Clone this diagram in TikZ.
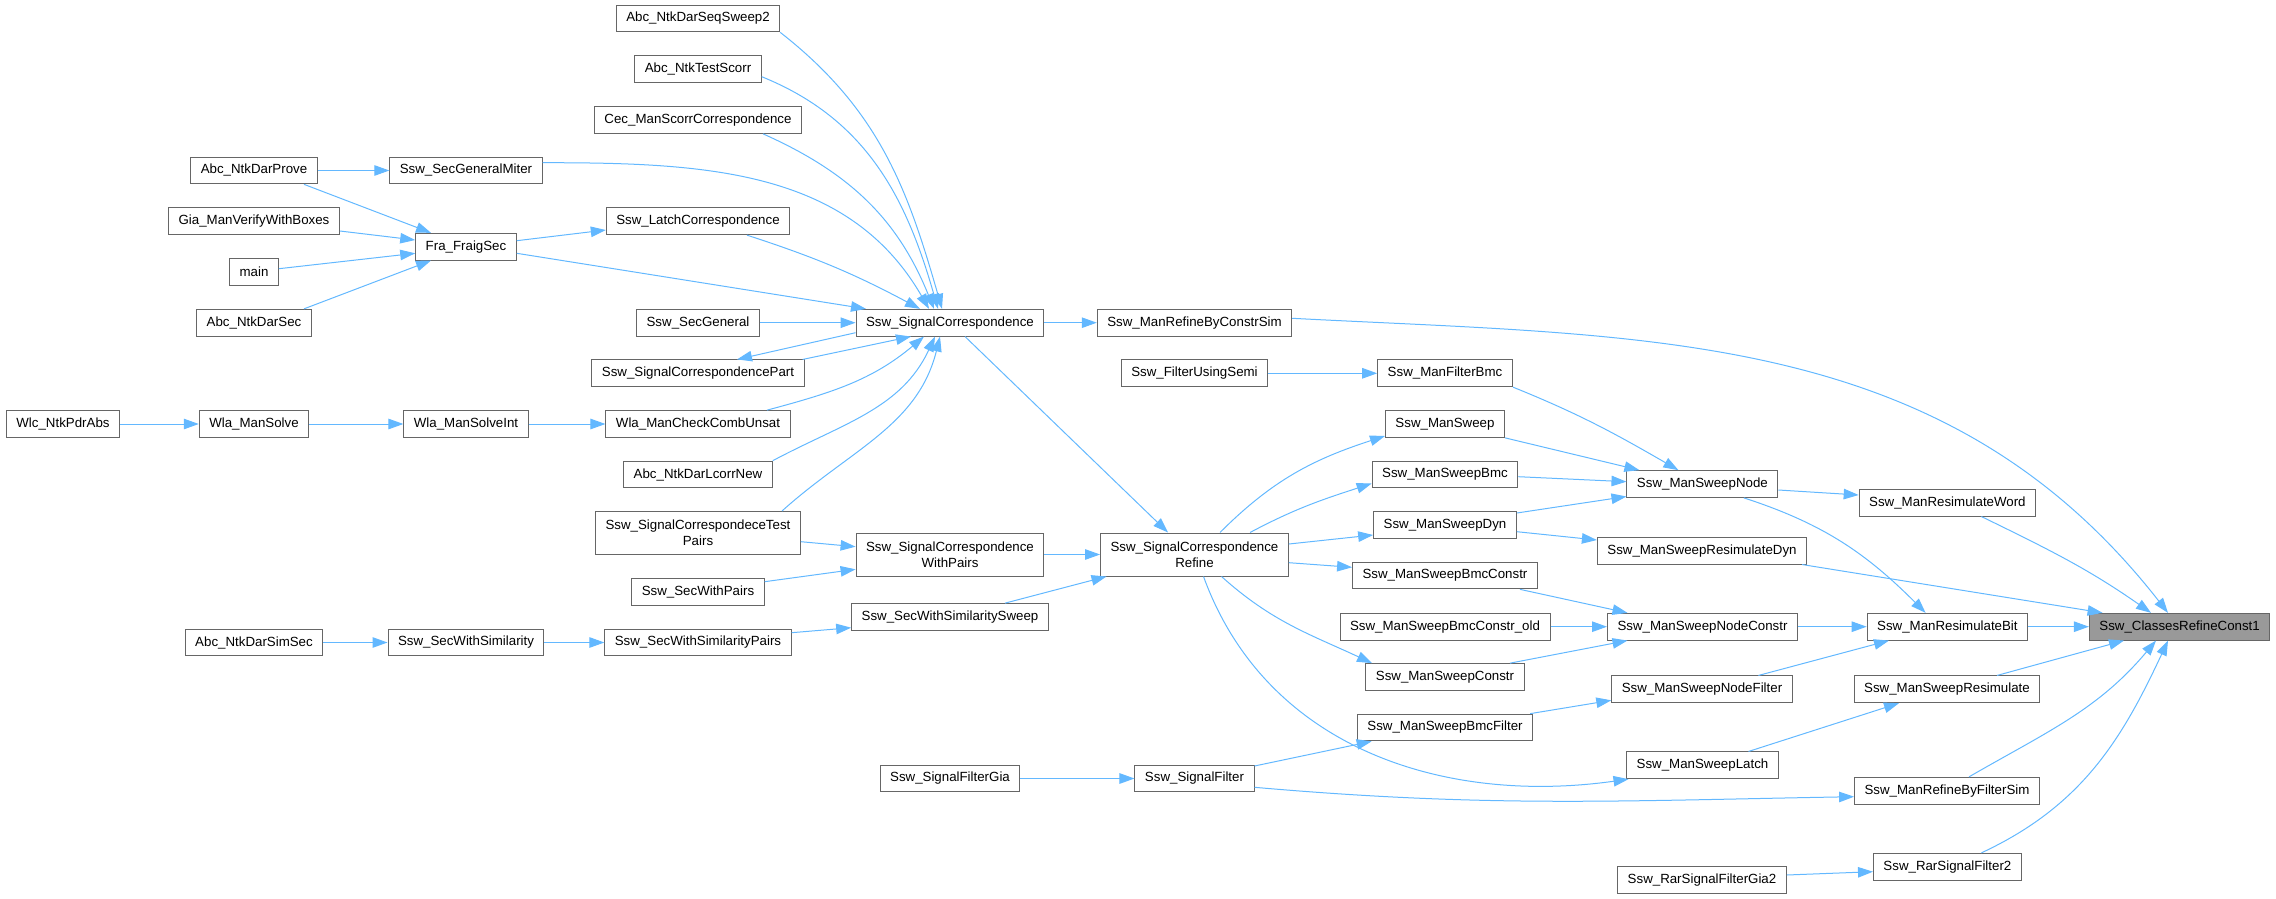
\documentclass[tikz,border=0pt]{standalone}
\usepackage{fontspec}
\setmainfont{Liberation Sans}
\usepackage{xcolor}
\usetikzlibrary{arrows.meta}
\definecolor{callblue}{HTML}{63B8FF}
\definecolor{nodeborder}{HTML}{666666}
\definecolor{rootfill}{HTML}{999999}
\tikzset{
  fn/.style = {
    draw           = nodeborder,
    fill           = white,
    line width     = 1pt,
    inner xsep     = 10pt,
    inner ysep     = 0pt,
    minimum height = 26.7pt,
    align          = center,
    font           = \fontsize{13.3}{16}\selectfont
  },
  fnroot/.style = {fn, fill = rootfill},
  fntwo/.style  = {fn, minimum height = 43pt},
  call/.style   = {draw = callblue, line width = 1pt, -{Triangle[length=15pt,width=10.5pt]}}
}

\begin{document}
\begin{tikzpicture}[x=1pt,y=1pt]
\useasboundingbox (0,0) rectangle (2276,-899);

% Column 1
\node[fn] (wlc) at (63,-424) {Wlc\_NtkPdrAbs};

% Column 2
\node[fn] (darprove)  at (254,-170.5) {Abc\_NtkDarProve};
\node[fn] (giaverify) at (254,-221.3) {Gia\_ManVerifyWithBoxes};
\node[fn] (mainfn)    at (254,-272)   {main};
\node[fn] (darsec)    at (254,-322.7) {Abc\_NtkDarSec};
\node[fn] (wlasolve)  at (254,-424)   {Wla\_ManSolve};
\node[fn] (darsimsec) at (254,-642.5) {Abc\_NtkDarSimSec};

% Column 3
\node[fn] (secmiter)    at (466,-170.5) {Ssw\_SecGeneralMiter};
\node[fn] (fraig)       at (466,-246.7) {Fra\_FraigSec};
\node[fn] (wlasolveint) at (466,-424)   {Wla\_ManSolveInt};
\node[fn] (secsim)      at (466,-642.5) {Ssw\_SecWithSimilarity};

% Column 4
\node[fn] (seqsweep)     at (698,-18.5)  {Abc\_NtkDarSeqSweep2};
\node[fn] (testscorr)    at (698,-69.3)  {Abc\_NtkTestScorr};
\node[fn] (cecscorr)     at (698,-120)   {Cec\_ManScorrCorrespondence};
\node[fn] (latchcorr)    at (698,-221.3) {Ssw\_LatchCorrespondence};
\node[fn] (secgeneral)   at (698,-322.7) {Ssw\_SecGeneral};
\node[fn] (scpart)       at (698,-373.3) {Ssw\_SignalCorrespondencePart};
\node[fn] (wlacheck)     at (698,-424)   {Wla\_ManCheckCombUnsat};
\node[fn] (lcorrnew)     at (698,-474.5) {Abc\_NtkDarLcorrNew};
\node[fntwo] (testpairs) at (698,-533)   {Ssw\_SignalCorrespondeceTest\\Pairs};
\node[fn] (secwithpairs) at (698,-591.7) {Ssw\_SecWithPairs};
\node[fn] (secsimpairs)  at (698,-642.5) {Ssw\_SecWithSimilarityPairs};

% Column 5
\node[fn] (sc)             at (950,-322.7) {Ssw\_SignalCorrespondence};
\node[fntwo] (scwithpairs) at (950,-554.5) {Ssw\_SignalCorrespondence\\WithPairs};
\node[fn] (simsweep)       at (950,-617)   {Ssw\_SecWithSimilaritySweep};
\node[fn] (filtergia)      at (950,-778.5) {Ssw\_SignalFilterGia};

% Column 6
\node[fn] (constrsim)     at (1194.5,-322.7) {Ssw\_ManRefineByConstrSim};
\node[fn] (filtersemi)    at (1194.5,-373.3) {Ssw\_FilterUsingSemi};
\node[fntwo] (screfine)   at (1194.5,-554.5) {Ssw\_SignalCorrespondence\\Refine};
\node[fn] (sigfilter)     at (1194.5,-778.5) {Ssw\_SignalFilter};

% Column 7
\node[fn] (filterbmc)    at (1445,-373.3) {Ssw\_ManFilterBmc};
\node[fn] (mansweep)     at (1445,-424)   {Ssw\_ManSweep};
\node[fn] (sweepbmc)     at (1445,-474.5) {Ssw\_ManSweepBmc};
\node[fn] (sweepdyn)     at (1445,-525)   {Ssw\_ManSweepDyn};
\node[fn] (bmcconstr)    at (1445,-575.5) {Ssw\_ManSweepBmcConstr};
\node[fn] (bmcconstrold) at (1445,-626.7) {Ssw\_ManSweepBmcConstr\_old};
\node[fn] (sweepconstr)  at (1445,-677)   {Ssw\_ManSweepConstr};
\node[fn] (bmcfilter)    at (1445,-727.5) {Ssw\_ManSweepBmcFilter};

% Column 8
\node[fn] (sweepnode)  at (1702.4,-484)   {Ssw\_ManSweepNode};
\node[fn] (resimdyn)   at (1702,-550.7)   {Ssw\_ManSweepResimulateDyn};
\node[fn] (nodeconstr) at (1702.5,-626.7) {Ssw\_ManSweepNodeConstr};
\node[fn] (nodefilter) at (1702,-689.3)   {Ssw\_ManSweepNodeFilter};
\node[fn] (sweeplatch) at (1702.5,-765.3) {Ssw\_ManSweepLatch};
\node[fn] (rargia2)    at (1702,-880)     {Ssw\_RarSignalFilterGia2};

% Column 9
\node[fn] (resimword)  at (1947.4,-502.7) {Ssw\_ManResimulateWord};
\node[fn] (resimbit)   at (1947.4,-626.7) {Ssw\_ManResimulateBit};
\node[fn] (sweepresim) at (1947,-689.3)   {Ssw\_ManSweepResimulate};
\node[fn] (filtersim)  at (1947,-790.7)   {Ssw\_ManRefineByFilterSim};
\node[fn] (rarfilter2) at (1947.4,-866.7) {Ssw\_RarSignalFilter2};

% Column 10
\node[fnroot] (const1) at (2179.6,-626.7) {Ssw\_ClassesRefineConst1};

% Calls into Fra_FraigSec and the Wla chain
\draw[call] (wlc.east) -- (wlasolve.west);
\draw[call] (wlasolve.east) -- (wlasolveint.west);
\draw[call] (wlasolveint.east) -- (wlacheck.west);
\draw[call] (darprove.east) -- (secmiter.west);
\draw[call] ([xshift=50pt]darprove.south) -- ([xshift=-35pt]fraig.north);
\draw[call] ([yshift=-9.7pt]giaverify.east) -- ([yshift=6.7pt]fraig.west);
\draw[call] ([yshift=3.3pt]mainfn.east) -- ([yshift=-6.6pt]fraig.west);
\draw[call] ([xshift=50pt]darsec.north) -- ([xshift=-35pt]fraig.south);
\draw[call] ([yshift=6pt]fraig.east) -- ([yshift=-8.7pt]latchcorr.west);
\draw[call] (darsimsec.east) -- (secsim.west);
\draw[call] (secsim.east) -- (secsimpairs.west);

% Calls into Ssw_SignalCorrespondence
\draw[call] ([yshift=-6.6pt]fraig.east) -- ([xshift=-84pt]sc.north);
\draw[call] ([yshift=7.8pt]secmiter.east) to[out=0,in=120] ([xshift=-21pt]sc.north);
\draw[call] (seqsweep.south east) to[out=-38,in=106] ([xshift=-8pt]sc.north);
\draw[call] ([yshift=-7.4pt]testscorr.east) to[out=-22,in=106] ([xshift=-12pt]sc.north);
\draw[call] ([xshift=65pt]cecscorr.south) to[out=-24,in=112] ([xshift=-16pt]sc.north);
\draw[call] ([xshift=49pt]latchcorr.south) to[out=-18,in=152] ([xshift=-30pt]sc.north);
\draw[call] (secgeneral.east) -- (sc.west);
\draw[call] ([yshift=-10pt]sc.west) -- ([xshift=39pt]scpart.north);
\draw[call] ([xshift=-2pt]scpart.north east) -- ([xshift=-39pt]sc.south);
\draw[call] ([xshift=69pt]wlacheck.north) to[out=15,in=-140] ([xshift=-26pt]sc.south);
\draw[call] (lcorrnew.north east) to[out=28,in=-115] ([xshift=-15pt]sc.south);
\draw[call] ([xshift=84pt]testpairs.north) to[out=42,in=-104] ([xshift=-10pt]sc.south);

% Calls into Ssw_SignalCorrespondenceRefine
\draw[call] ([yshift=-8.7pt]testpairs.east) -- ([yshift=7.8pt]scwithpairs.west);
\draw[call] ([yshift=10pt]secwithpairs.east) -- ([yshift=-14.8pt]scwithpairs.west);
\draw[call] ([yshift=9.8pt]secsimpairs.east) -- ([yshift=-10.7pt]simsweep.west);
\draw[call] (scwithpairs.east) -- (screfine.west);
\draw[call] ([xshift=55pt]simsweep.north) -- ([xshift=-88pt]screfine.south);
\draw[call] ([xshift=15pt]sc.south) -- ([xshift=-26.5pt]screfine.north);
\draw[call] (sc.east) -- (constrsim.west);
\draw[call] (filtergia.east) -- (sigfilter.west);
\draw[call] (filtersemi.east) -- (filterbmc.west);

% Calls out of Ssw_SignalCorrespondenceRefine
\draw[call] ([xshift=25.5pt]screfine.north) to[out=45,in=-162] ([yshift=-12pt]mansweep.west);
\draw[call] ([xshift=55.5pt]screfine.north) to[out=28,in=-162] ([yshift=-9pt]sweepbmc.west);
\draw[call] ([yshift=10.5pt]screfine.east) -- ([yshift=-10pt]sweepdyn.west);
\draw[call] ([yshift=-8.2pt]screfine.east) -- ([yshift=8.2pt]bmcconstr.west);
\draw[call] ([xshift=27pt]screfine.south) to[out=-42,in=155] ([xshift=-73pt]sweepconstr.north);
\draw[call] ([xshift=9pt]screfine.south) to[out=-70,in=-172] ([xshift=-74pt]sweeplatch.south);
\draw[call] ([yshift=12.5pt]sigfilter.east) -- ([xshift=-73.3pt]bmcfilter.south);
\draw[call] ([yshift=-8.8pt]sigfilter.east) to[out=-5,in=-179] ([yshift=-6pt]filtersim.west);

% Calls into the sweep nodes
\draw[call] ([xshift=68pt]filterbmc.south) to[out=-22,in=150] ([xshift=-24pt]sweepnode.north);
\draw[call] (mansweep.south east) -- ([xshift=-63pt]sweepnode.north);
\draw[call] ([yshift=-2.2pt]sweepbmc.east) -- ([yshift=2.3pt]sweepnode.west);
\draw[call] ([yshift=12pt]sweepdyn.east) -- ([yshift=-12.5pt]sweepnode.west);
\draw[call] ([yshift=-6.7pt]sweepdyn.east) -- ([yshift=10.7pt]resimdyn.west);
\draw[call] ([xshift=75pt]bmcconstr.south) -- ([xshift=-75pt]nodeconstr.north);
\draw[call] (bmcconstrold.east) -- (nodeconstr.west);
\draw[call] ([xshift=65pt]sweepconstr.north) -- ([xshift=-75pt]nodeconstr.south);
\draw[call] ([xshift=-3pt]bmcfilter.north east) -- ([yshift=-11pt]nodefilter.west);

% Calls into the resimulation
\draw[call] ([yshift=-6pt]sweepnode.east) -- ([yshift=7.7pt]resimword.west);
\draw[call] ([xshift=41.4pt]sweepnode.south) to[out=-18,in=135] ([xshift=-21.8pt]resimbit.north);
\draw[call] (nodeconstr.east) -- (resimbit.west);
\draw[call] ([xshift=56.4pt]nodefilter.north) -- ([xshift=-58.4pt]resimbit.south);
\draw[call] ([xshift=46pt]sweeplatch.north) -- ([xshift=-48pt]sweepresim.south);
\draw[call] ([yshift=5pt]rargia2.east) -- ([yshift=-5pt]rarfilter2.west);

% Calls into Ssw_ClassesRefineConst1
\draw[call] ([yshift=4.4pt]constrsim.east) to[out=-3,in=128] ([xshift=-11.6pt]const1.north);
\draw[call] ([xshift=34pt]resimword.south) to[out=-26,in=145] ([xshift=-28.6pt]const1.north);
\draw[call] ([xshift=-5pt]resimdyn.south east) -- ([xshift=-77pt]const1.north);
\draw[call] (resimbit.east) -- (const1.west);
\draw[call] ([xshift=50pt]sweepresim.north) -- ([xshift=-55.6pt]const1.south);
\draw[call] ([xshift=22pt]filtersim.north) to[out=30,in=-130] ([xshift=-23.6pt]const1.south);
\draw[call] ([xshift=34pt]rarfilter2.north) to[out=25,in=-115] ([xshift=-11.6pt]const1.south);

\end{tikzpicture}
\end{document}
